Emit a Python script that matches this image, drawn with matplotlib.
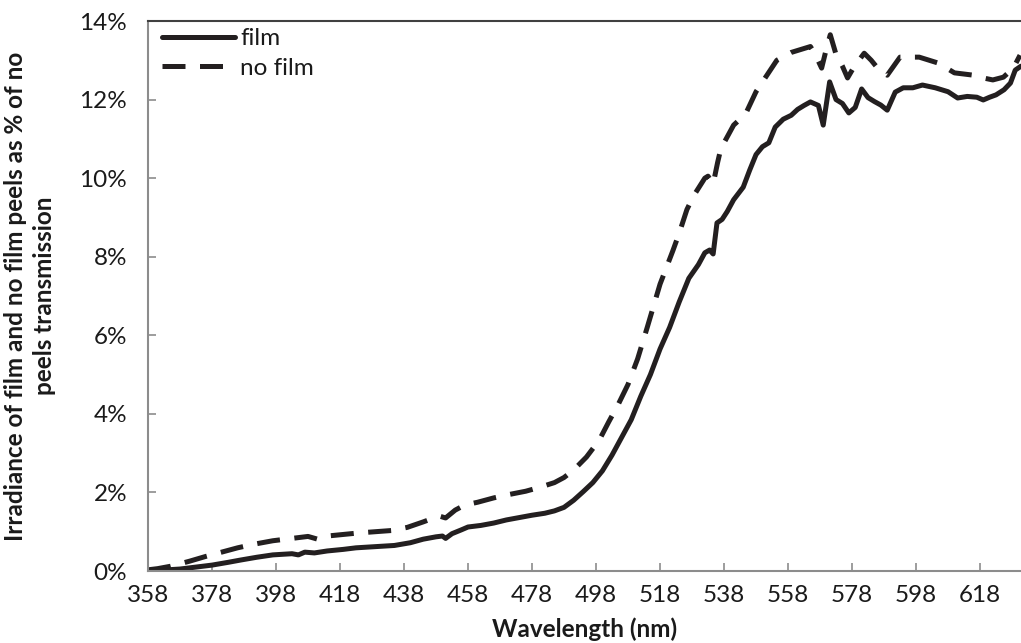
import matplotlib
matplotlib.use("Agg")
import matplotlib.pyplot as plt
from matplotlib.ticker import FuncFormatter, FixedLocator

plt.rcParams['font.family'] = ['Lato', 'DejaVu Sans']

wl_film = [358, 362, 368, 373, 378, 383, 387, 392, 397, 401, 403, 405, 407, 410, 414, 419, 423, 429,
           435, 440, 444, 448, 450, 451, 453, 456, 458, 462, 466, 470, 474, 478, 482, 485, 488, 491,
           494, 497, 500, 503, 506, 509, 512, 515, 518, 521, 524, 527, 530, 532, 533.5, 534.6, 535.8,
           537.4, 539, 541, 544, 546, 548, 550, 552, 554, 556.5, 559, 561, 563, 565, 567.5, 569, 571,
           573, 575, 577, 579, 581, 583, 585, 587, 589, 591.5, 594, 597, 600, 604, 608, 611, 614, 617,
           619, 621, 623, 625.5, 627.5, 629, 630.8]
film = [0.00, 0.02, 0.05, 0.10, 0.15, 0.22, 0.28, 0.35, 0.41, 0.43, 0.44, 0.41, 0.48, 0.46, 0.51,
        0.55, 0.59, 0.62, 0.65, 0.72, 0.81, 0.87, 0.89, 0.83, 0.95, 1.05, 1.12, 1.16, 1.22, 1.30,
        1.36, 1.42, 1.47, 1.53, 1.62, 1.80, 2.02, 2.25, 2.55, 2.95, 3.40, 3.85, 4.45, 5.00, 5.65,
        6.20, 6.85, 7.45, 7.80, 8.10, 8.17, 8.07, 8.86, 8.95, 9.15, 9.45, 9.77, 10.20, 10.60, 10.80,
        10.90, 11.30, 11.50, 11.60, 11.75, 11.85, 11.94, 11.85, 11.35, 12.45, 12.00, 11.90, 11.66,
        11.80, 12.27, 12.05, 11.95, 11.86, 11.73, 12.19, 12.30, 12.30, 12.37, 12.30, 12.20, 12.04,
        12.08, 12.06, 11.99, 12.06, 12.12, 12.25, 12.42, 12.75, 12.85]

wl_nofilm = [358, 361, 365, 371, 376, 381, 386, 391, 397, 402, 406, 408, 411, 414, 419, 424, 429,
             434, 439, 444, 449, 451, 454, 457, 461, 466, 471, 476, 480, 485, 488, 491, 495, 499,
             502, 505, 508, 511, 514, 518, 522, 524, 526.4, 528.5, 532, 533, 534.6, 536, 537, 539,
             541, 543, 545, 548, 551, 554.5, 559, 563, 565, 566.5, 568.5, 570, 571.2, 573, 575,
             576.6, 578.6, 581.8, 584, 586, 589, 593, 599, 604.9, 610, 613, 616, 619, 622, 625.3,
             628.4, 630.5]
nofilm = [0.03, 0.06, 0.12, 0.25, 0.37, 0.48, 0.59, 0.68, 0.77, 0.82, 0.86, 0.88, 0.81, 0.89, 0.93,
          0.97, 1.00, 1.03, 1.11, 1.25, 1.40, 1.35, 1.55, 1.68, 1.75, 1.86, 1.95, 2.03, 2.12, 2.25,
          2.38, 2.57, 2.90, 3.33, 3.80, 4.25, 4.75, 5.40, 6.20, 7.30, 8.15, 8.60, 9.20, 9.55, 10.00,
          10.05, 9.85, 10.40, 10.75, 11.05, 11.35, 11.50, 11.68, 12.20, 12.57, 13.00, 13.20, 13.30,
          13.35, 13.15, 12.80, 13.30, 13.65, 13.15, 12.85, 12.55, 12.83, 13.18, 13.00, 12.80, 12.62,
          13.08, 13.08, 12.93, 12.68, 12.65, 12.62, 12.55, 12.50, 12.57, 12.80, 13.13]

xticks = [358, 378, 398, 418, 438, 458, 478, 498, 518, 538, 558, 578, 598, 618]
yticks = [0, 2, 4, 6, 8, 10, 12, 14]

fig = plt.figure(figsize=(10.21, 6.43), dpi=100)
ax = fig.add_axes([148/1021, 1 - 571/643, 1 - 148/1021, (571 - 21)/643])

lw = 3.6
ax.plot(wl_film, film, color='#231f20', lw=lw, solid_joinstyle='round', solid_capstyle='round', label='film')
ax.plot(wl_nofilm, nofilm, color='#231f20', lw=lw, dashes=(4.6, 2.9), dash_capstyle='butt', label='no film')

ax.set_xlim(358, 630.8)
ax.set_ylim(0, 14)
ax.xaxis.set_major_locator(FixedLocator(xticks))
ax.yaxis.set_major_locator(FixedLocator(yticks))
ax.yaxis.set_major_formatter(FuncFormatter(lambda v, p: f"{int(round(v))}%"))
ax.xaxis.set_major_formatter(FuncFormatter(lambda v, p: f"{int(round(v))}"))

for side in ['left', 'bottom']:
    ax.spines[side].set_color('#8c8c8c')
    ax.spines[side].set_linewidth(1.5)
ax.spines['top'].set_color('#404040')
ax.spines['top'].set_linewidth(1.5)
ax.spines['right'].set_visible(False)

ax.tick_params(axis='both', direction='in', length=6, width=1.2, color='#8c8c8c',
               labelsize=17.5, labelcolor='#1a1a1a')
ax.tick_params(axis='x', pad=10)
ax.tick_params(axis='y', pad=15)

ax.set_xlabel('Wavelength (nm)', fontsize=17.5, fontweight='bold', color='#1a1a1a', labelpad=8)
ax.set_ylabel('Irradiance of film and no film peels as % of no\npeels transmission',
              fontsize=17.5, fontweight='bold', color='#1a1a1a', labelpad=17, linespacing=1.3)

leg = ax.legend(loc='upper left', bbox_to_anchor=(-0.003, 1.018), frameon=False, fontsize=17.5,
                handlelength=3.0, handletextpad=0.2, labelspacing=0.35, borderaxespad=0.3)
for t in leg.get_texts():
    t.set_color('#1a1a1a')

fig.savefig('out.png', dpi=100)
